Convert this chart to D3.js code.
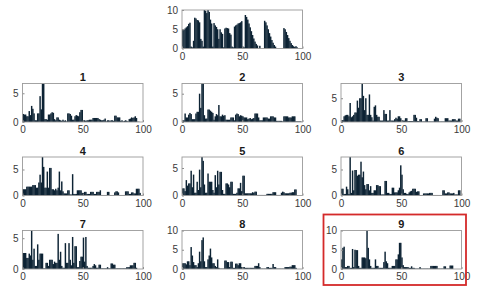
<!DOCTYPE html>
<html>
<head>
<meta charset="utf-8">
<script src="https://cdn.jsdelivr.net/npm/d3@7"></script>
<style>
  body { margin: 0; background: #fff; }
  svg { display: block; font-family: "Liberation Sans", Arial, sans-serif; }
</style>
</head>
<body>
<script>
// bar heights, one value per index 0..99
var topVals = [5.0,4.8,5.2,5.5,5.8,6.4,6.7,0.5,0.3,2.0, 8.0,7.8,7.4,7.3,6.8,2.5,2.0,0.5,10,9.8,
  9.2,10,9.5,7.5,6.5,0.5,6.6,6.0,5.6,5.0, 2.5,5.0,4.2,3.8,0.3,5.2,5.4,5.3,5.2,4.0,
  3.6,0.5,0.3,5.7,6.0,6.2,6.5,6.6,6.8,7.1, 0.5,0.3,8.7,8.2,7.5,6.5,5.5,4.5,3.5,2.6,
  1.8,1.2,0.8,0,0.7,0,0,0,7.2,6.8, 6.0,5.0,4.0,3.1,2.2,1.5,0.9,0.5,0,0,
  0,0,0,0,5.3,5.0,4.3,3.5,2.7,2.0, 1.4,0.9,0.6,0.4,0.6,0.3,0,0,0,0];

var p1 = [1.4,1.3,1.3,1.0,1.0,1.9,1.2,2.8,2.3,1.5, 0.3,0.3,1.5,1.5,4.5,2.2,6.7,6.7,0.5,0.5,
  0.4,1.3,1.3,1.5,1.7,1.6,0.5,0.3,0.8,0.8, 0.4,0.3,0.2,0.4,0.2,0.3,0.1,1.5,1.5,1.4,
  1.1,0.4,0.4,1.0,1.2,1.1,1.0,1.7,2.1,2.1, 0.3,0.3,0.2,0.3,0.3,0.4,0.4,0.4,0.7,0.7,
  0.7,0.7,0.7,0.5,0.4,0.3,0.3,0.4,0.6,0.1, 0.3,0.3,0.2,0.3,0.3,0.2,1.1,1.1,0.8,0.8,
  0.8,0.2,0.3,0.1,0.2,0.3,0.2,0.1,0.5,0.6, 0.8,0.7,0.8,1.0,0.7,0.05,0.05,0,0,0];

var p2 = [0.3,0.3,1.5,0.8,0.8,1.3,1.6,1.4,0.5,0.5, 0.5,1.5,1.8,1.8,5.0,2.5,6.8,6.8,1.2,0.6,
  0.6,2.2,2.2,2.0,1.8,1.6,0.4,1.0,1.4,1.2, 3.0,1.0,1.0,1.3,1.1,1.2,0.4,0.4,0.4,0.4,
  0.8,0.8,0.8,0.3,1.3,1.5,1.4,1.0,1.2,1.1, 1.0,0.8,0.8,0.8,0.5,0.6,0.7,0.5,0.6,0.7,
  1.5,1.5,1.5,0.8,0.3,0.3,0.3,0.8,0.8,0.8, 0.8,0.6,0.6,1.0,1.0,1.0,0.8,0.8,0.2,0.2,
  0.2,0.2,0.2,0.1,1.0,1.0,1.0,1.0,0.8,0.8, 0.8,1.0,1.0,1.0,0.1,0.1,0.1,0.1,0.1,0];

var p3 = [0.4,0.4,1.2,1.4,1.5,1.5,1.2,4.0,1.0,1.2, 1.5,2.0,2.0,4.5,3.0,5.0,5.0,8.1,5.5,2.5,
  5.0,1.5,1.5,5.8,1.5,1.0,0.3,3.2,3.5,1.5, 1.1,1.1,0.3,0.3,0.3,2.5,1.7,1.7,0.3,0.3,
  2.5,0.3,0.3,0.3,0.6,0.9,0.7,1.2,1.2,0.8, 0.4,0.3,0.3,0.8,0.8,0.2,0.2,0.2,0.2,0.2,
  1.5,1.5,0.9,0.2,0.2,0.6,0.6,0.1,0.1,0.1, 0.8,0.8,0.1,0.1,0.1,0.1,0.1,0.7,1.1,0.9,
  0.8,0.1,0.1,0.1,0.1,0.1,0.8,0.8,0.8,0.3, 0.3,0.3,0.6,0.6,0.6,0.3,0.3,0.7,0.7,0];

var p4 = [1.2,1.2,1.2,1.7,1.7,1.7,1.7,1.7,2.0,2.0, 2.0,1.5,1.5,2.5,4.0,2.5,7.4,5.5,1.5,1.5,
  4.6,1.5,5.3,5.3,1.2,1.2,1.0,1.3,1.0,1.5, 4.6,1.0,2.7,0.8,0.4,0.4,0.4,1.0,1.0,0.2,
  0.2,4.1,0.3,0.3,0.3,1.0,1.0,1.0,1.0,0.5, 0.5,0.7,0.7,0.3,0.3,0.3,0.7,0.7,0.7,0.3,
  0.3,0.7,0.7,0.7,1.0,0.1,0.1,0.1,0.1,0.1, 0.7,0.7,0.1,0.1,0.1,0.1,0.6,0.8,0.8,0.6,
  0.1,0.1,0.1,0.1,0.1,0.8,0.8,0.8,0.3,0.3, 0.6,0.6,0.4,0.4,1.3,1.3,1.3,0.5,0,0];

var p5 = [1.3,1.3,0.8,2.8,1.8,2.2,2.2,4.5,1.5,3.8, 0.5,0.5,2.5,1.0,4.7,1.5,7.0,6.3,2.0,0.5,
  0.5,4.0,2.5,2.5,2.5,1.0,0.5,3.7,1.5,4.5, 2.0,4.3,4.3,1.0,0.3,0.3,2.2,2.2,2.0,1.5,
  2.5,2.5,0.3,0.3,0.3,0.5,1.3,1.3,2.3,0.8, 3.6,3.6,0.4,0.4,0.4,0.4,0.4,0.4,0.6,0.5,
  0.7,0.7,0.1,0.1,0.1,0.1,0.1,0.1,0.1,0.1, 0.3,0.3,0.3,0.3,0.3,0.6,0.6,0.6,0.1,0.1,
  0.1,0.1,0.5,0.7,0.6,0.4,0.4,0.4,0.4,0.5, 0.5,0.6,0.6,1.1,1.1,0,0,0,0,0];

var p6 = [1.3,1.3,0.3,0.3,1.7,1.2,0.3,7.4,0.5,4.8, 1.0,4.9,4.9,3.8,4.0,4.0,6.5,3.5,4.6,2.0,
  1.2,2.2,2.2,1.0,1.8,0.5,0.5,1.0,1.0,2.0, 2.0,1.8,1.8,0.2,0.2,0.2,2.8,2.8,0.5,0.5,
  0.3,0.3,1.5,1.5,0.6,0.6,0.6,1.0,1.5,5.8, 4.0,1.2,0.5,0.5,0.3,0.3,0.6,0.8,0.9,1.3,
  1.3,1.3,0.7,0.8,0.8,0.1,0.1,0.1,0.4,0.4, 0.4,0.4,0.4,0.5,0.5,0.5,0.1,0.1,0.1,0.1,
  0.1,0.1,0.1,0.1,1.0,1.0,0.4,0.4,0.6,0.6, 0.4,0.4,0.4,0.5,0.2,0.2,0.2,1.0,1.0,0];

var p7 = [2.6,2.6,2.6,1.8,1.8,2.5,2.2,6.25,1.5,3.3, 0.5,0.5,4.0,1.5,2.5,2.5,2.5,0.1,0.1,1.0,
  1.0,0.5,1.5,1.5,1.5,0.8,1.2,1.0,1.0,5.7, 1.5,2.8,0.5,0.2,0.2,4.2,1.0,1.0,4.2,1.5,
  0.6,5.2,1.0,3.7,3.7,0.3,0.3,1.3,2.0,2.0, 5.1,1.2,5.2,0.5,0.2,0.2,0.2,0.2,0.5,0.8,
  0.6,0.2,0.2,0.7,0.7,0.1,0.1,0.1,0.1,0.1, 0.3,0.1,0.1,0.9,0.9,0.7,0.7,0.1,0.1,0.1,
  0.1,0.1,0.1,0.1,0.1,0.1,0.3,0.3,0.3,0.6, 0.6,0.6,1.0,1.0,0.2,0,0,0,0,0];

var p8 = [1.5,1.5,1.5,1.2,2.0,2.0,1.0,5.7,3.5,1.8, 1.0,1.0,0.5,1.5,4.5,2.0,7.5,8.2,2.0,0.5,
  0.5,2.5,3.5,5.3,3.0,1.5,1.5,0.8,0.5,2.5, 0.3,0.1,0.1,0.1,0.1,2.2,2.2,1.8,1.8,0.5,
  1.9,1.9,0.3,0.3,1.4,1.4,1.0,1.5,1.5,0.5, 0.5,0.5,0.3,0.3,0.3,0.3,0.3,0.3,0.3,0.3,
  0.8,0.8,0.8,1.5,0.5,0.1,0.1,0.1,0.1,0.1, 0.5,0.5,0.3,0.3,0.3,1.3,0.5,0.5,0.1,0.1,
  0.1,0.1,0.1,0.1,0.1,0.5,0.5,0.5,0.5,0.6, 0.6,1.0,1.0,1.0,0.3,0,0,0,0,0];

var p9 = [2.5,5.5,5.8,0.5,0.5,0.8,0.8,0.3,0.3,5.2, 0.5,5.0,4.9,4.9,0.8,0.3,0.3,3.0,3.0,3.0,
  2.8,10,5.5,2.5,0.8,0.3,0.3,0.3,2.5,0.8, 0.8,0.3,0.3,0.3,0.3,1.8,4.5,2.0,1.5,0.3,
  0.3,0.3,0.8,0.8,0.8,2.5,2.5,3.8,6.8,6.8, 3.0,1.0,0.5,0.5,0.5,0.5,0.3,0.3,0.7,0.3,
  0.3,0.1,0.1,0.1,0.1,0.5,0.1,0.1,0.1,0.1, 0.1,0.1,0.1,0.1,0.8,0.8,0.8,0.8,0.8,0.8,
  0.1,0.1,0.1,0.1,0.1,0.7,0.7,0.1,0.1,0.1, 0.9,0.9,0.9,0,0,0,0,0,0,0];

var titles = ["", "1", "2", "3", "4", "5", "6", "7", "8", "9"];
var series = [topVals, p1, p2, p3, p4, p5, p6, p7, p8, p9];
var yMaxes = [10, 6.7, 6.8, 8.1, 7.4, 7.0, 7.4, 6.25, 10, 10];
var xTicks = [0, 50, 100];

var width = 480, height = 296;
var pw = 120.5, ph = 38.5;
var colX = [22.5, 182, 341];
var rowY = [83.5, 157, 230.5];

var svg = d3.select("body").append("svg")
  .attr("width", width)
  .attr("height", height);

function panel(vals, title, yMax, x0, y0) {
  var g = svg.append("g").attr("transform", "translate(" + x0 + "," + y0 + ")");

  var x = d3.scaleLinear().domain([0, 100]).range([0, pw]);
  var y = d3.scaleLinear().domain([0, yMax]).range([ph, 0]);
  var yTicks = yMax >= 10 ? [0, 5, 10] : [0, 5];

  // bars touch each other: plain dark columns, a hair of overlap
  g.selectAll("rect.bar")
    .data(vals)
    .enter()
    .append("rect")
    .attr("class", "bar")
    .attr("x", function(d, i) { return x(i); })
    .attr("width", x(1) + 0.25)
    .attr("y", function(d) { return y(d); })
    .attr("height", function(d) { return ph - y(d); })
    .attr("fill", "#0d2334");

  // axes with inward ticks, MATLAB style
  var fmt = d3.format("d");
  var xAxis = d3.axisBottom(x).tickValues(xTicks).tickFormat(fmt).tickSize(-2).tickPadding(4);
  var yAxis = d3.axisLeft(y).tickValues(yTicks).tickFormat(fmt).tickSize(-2).tickPadding(4);

  g.append("g").attr("transform", "translate(0," + ph + ")").call(xAxis);
  g.append("g").call(yAxis);

  g.selectAll(".domain").remove();
  g.selectAll(".tick line").attr("stroke", "#8a8a8a");
  g.selectAll(".tick text")
    .attr("fill", "#3a3a3a")
    .attr("font-size", "10px")
    .attr("font-family", "Liberation Sans, Arial, sans-serif");

  g.append("rect")
    .attr("width", pw)
    .attr("height", ph)
    .attr("fill", "none")
    .attr("stroke", "#9a9a9a")
    .attr("stroke-width", 0.9);

  if (title) {
    g.append("text")
      .attr("x", pw / 2)
      .attr("y", -2.5)
      .attr("text-anchor", "middle")
      .attr("font-size", "11px")
      .attr("font-weight", "bold")
      .attr("fill", "#1a1a1a")
      .text(title);
  }
}

panel(series[0], titles[0], yMaxes[0], 182, 10);
for (var k = 1; k < 10; k++) {
  var r = Math.floor((k - 1) / 3), c = (k - 1) % 3;
  panel(series[k], titles[k], yMaxes[k], colX[c], rowY[r]);
}

// red highlight round panel 9
svg.append("rect")
  .attr("x", 323.5)
  .attr("y", 214.5)
  .attr("width", 142.5)
  .attr("height", 70.5)
  .attr("fill", "none")
  .attr("stroke", "#d42a2a")
  .attr("stroke-width", 1.8);
</script>
</body>
</html>
